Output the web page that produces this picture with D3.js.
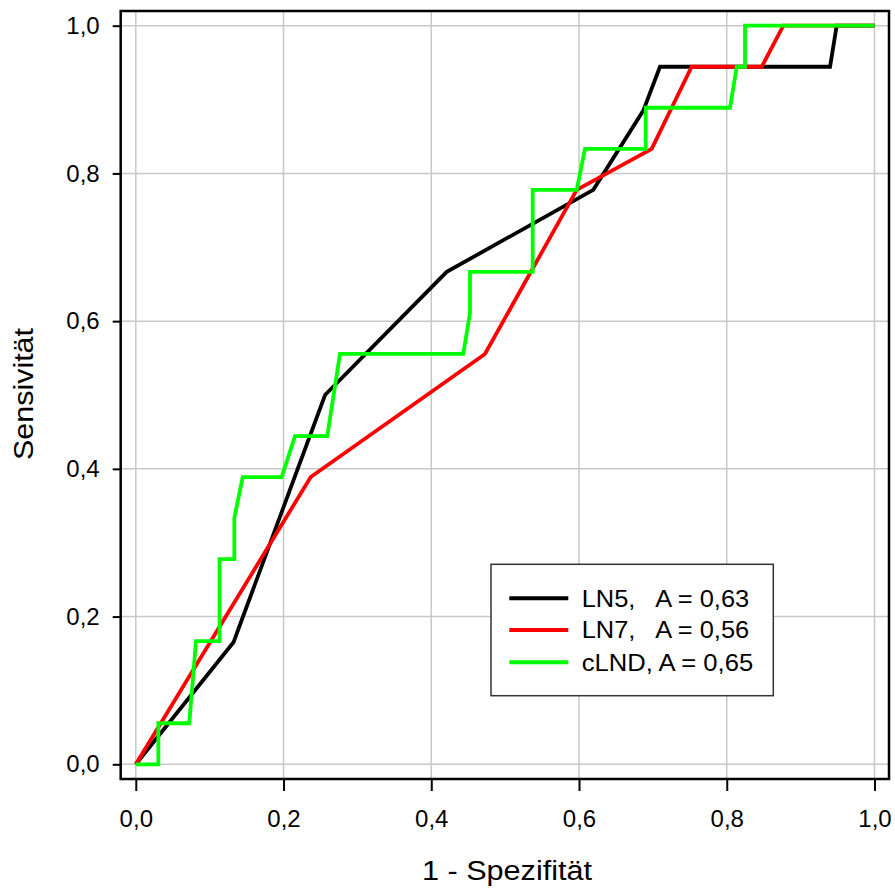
<!DOCTYPE html>
<html>
<head>
<meta charset="utf-8">
<script src="https://cdn.jsdelivr.net/npm/d3@7"></script>
<style>
  html, body { margin: 0; padding: 0; background: #fff; }
  svg { display: block; }
  text { font-family: "Liberation Sans", Arial, sans-serif; fill: #000; }
</style>
</head>
<body>
<svg id="chart" width="895" height="889"></svg>
<script>
// ---- data ----
const xTicks = [0, 0.2, 0.4, 0.6, 0.8, 1.0];
const yTicks = [0, 0.2, 0.4, 0.6, 0.8, 1.0];
const xTickLabels = ["0,0", "0,2", "0,4", "0,6", "0,8", "1,0"];
const yTickLabels = ["0,0", "0,2", "0,4", "0,6", "0,8", "1,0"];
const xTitle = "1 - Spezifität";
const yTitle = "Sensivität";

const seriesNames = ["LN5,   A = 0,63", "LN7,   A = 0,56", "cLND, A = 0,65"];
const seriesColors = ["#000000", "#ff0000", "#00ff00"];

const ln5 = [
  [0, 0], [0.1323, 0.1652], [0.1424, 0.1927], [0.2562, 0.5], [0.4209, 0.6667],
  [0.6193, 0.7778], [0.687, 0.885], [0.7096, 0.9444], [0.9398, 0.9444],
  [0.9488, 1.0], [1.0, 1.0]
];
const ln7 = [
  [0, 0], [0.2368, 0.3889], [0.4727, 0.5556], [0.5969, 0.7778], [0.6984, 0.8333],
  [0.7525, 0.9444], [0.8473, 0.9444], [0.8766, 1.0], [1.0, 1.0]
];
const clnd = [
  [0, 0], [0.0305, 0], [0.0305, 0.0556], [0.0724, 0.0556], [0.0815, 0.1667],
  [0.1134, 0.1667], [0.1134, 0.2778], [0.1334, 0.2778], [0.1334, 0.3333],
  [0.1447, 0.3889], [0.1975, 0.3889], [0.2155, 0.4444], [0.2592, 0.4444],
  [0.2764, 0.5556], [0.4433, 0.5556], [0.4524, 0.6111], [0.4524, 0.6667],
  [0.5373, 0.6667], [0.5373, 0.7778], [0.5969, 0.7778], [0.6081, 0.8333],
  [0.6903, 0.8333], [0.6903, 0.8889], [0.8044, 0.8889], [0.8135, 0.9444],
  [0.8247, 0.9444], [0.8247, 1.0], [1.0, 1.0]
];
const seriesData = [ln5, ln7, clnd];

// ---- layout ----
const svg = d3.select("#chart");
const frame = { left: 120.7, top: 11, right: 889, bottom: 779 };
const x = d3.scaleLinear().domain([0, 1]).range([135.8, 874.5]);
const y = d3.scaleLinear().domain([0, 1]).range([764.3, 25.7]);
const FONT = 24;
const FAMILY = '"Liberation Sans", Arial, sans-serif';

// grid
const grid = svg.append("g");
grid.selectAll("line.vx").data(xTicks).enter().append("line")
  .attr("x1", d => x(d)).attr("x2", d => x(d))
  .attr("y1", frame.top).attr("y2", frame.bottom)
  .attr("stroke", "#c8c8c8").attr("stroke-width", 1.5);
grid.selectAll("line.hy").data(yTicks).enter().append("line")
  .attr("y1", d => y(d)).attr("y2", d => y(d))
  .attr("x1", frame.left).attr("x2", frame.right)
  .attr("stroke", "#c8c8c8").attr("stroke-width", 1.5);

// axes (ticks + labels)
const xAxis = d3.axisBottom(x).tickValues(xTicks)
  .tickFormat((d, i) => xTickLabels[i]).tickSizeInner(12).tickSizeOuter(0).tickPadding(19);
const gx = svg.append("g").attr("transform", `translate(0,${frame.bottom})`).call(xAxis);
gx.select(".domain").remove();
gx.selectAll(".tick line").attr("stroke", "#000").attr("stroke-width", 2);
gx.selectAll(".tick text").style("font-size", FONT + "px")
  .style("font-family", FAMILY).attr("fill", "#000");

const yAxis = d3.axisLeft(y).tickValues(yTicks)
  .tickFormat((d, i) => yTickLabels[i]).tickSizeInner(8).tickSizeOuter(0).tickPadding(13);
const gy = svg.append("g").attr("transform", `translate(${frame.left},0)`).call(yAxis);
gy.select(".domain").remove();
gy.selectAll(".tick line").attr("stroke", "#000").attr("stroke-width", 2);
gy.selectAll(".tick text").style("font-size", FONT + "px")
  .style("font-family", FAMILY).attr("fill", "#000");

// curves
const line = d3.line().x(d => x(d[0])).y(d => y(d[1]));
svg.append("g").selectAll("path").data(seriesData).enter().append("path")
  .attr("d", d => line(d))
  .attr("fill", "none")
  .attr("stroke", (d, i) => seriesColors[i])
  .attr("stroke-width", 3.8)
  .attr("stroke-linejoin", "miter")
  .attr("stroke-linecap", "butt");

// frame
svg.append("rect")
  .attr("x", frame.left).attr("y", frame.top)
  .attr("width", frame.right - frame.left).attr("height", frame.bottom - frame.top)
  .attr("fill", "none").attr("stroke", "#000").attr("stroke-width", 2.5);

// titles
svg.append("text").attr("x", 507).attr("y", 880)
  .attr("text-anchor", "middle").style("font-size", "27px")
  .attr("textLength", 170).attr("lengthAdjust", "spacingAndGlyphs").text(xTitle);
svg.append("text").attr("transform", "translate(33,394) rotate(-90)")
  .attr("text-anchor", "middle").style("font-size", "27px")
  .attr("textLength", 132).attr("lengthAdjust", "spacingAndGlyphs").text(yTitle);

// legend
const lg = svg.append("g");
lg.append("rect").attr("x", 491).attr("y", 564.3).attr("width", 282.3).attr("height", 131.4)
  .attr("fill", "#fff").attr("stroke", "#333").attr("stroke-width", 1.5);
const rowY = [598.3, 630, 662.3];
const rowLen = [167.5, 167.5, 171.5];
seriesNames.forEach((name, i) => {
  lg.append("line").attr("x1", 509.3).attr("x2", 568.3)
    .attr("y1", rowY[i]).attr("y2", rowY[i])
    .attr("stroke", seriesColors[i]).attr("stroke-width", 4);
  lg.append("text").attr("x", 581.7).attr("y", rowY[i] + 8.3)
    .attr("xml:space", "preserve").style("white-space", "pre")
    .style("font-size", FONT + "px")
    .attr("textLength", rowLen[i]).attr("lengthAdjust", "spacingAndGlyphs")
    .text(name);
});
</script>
</body>
</html>
